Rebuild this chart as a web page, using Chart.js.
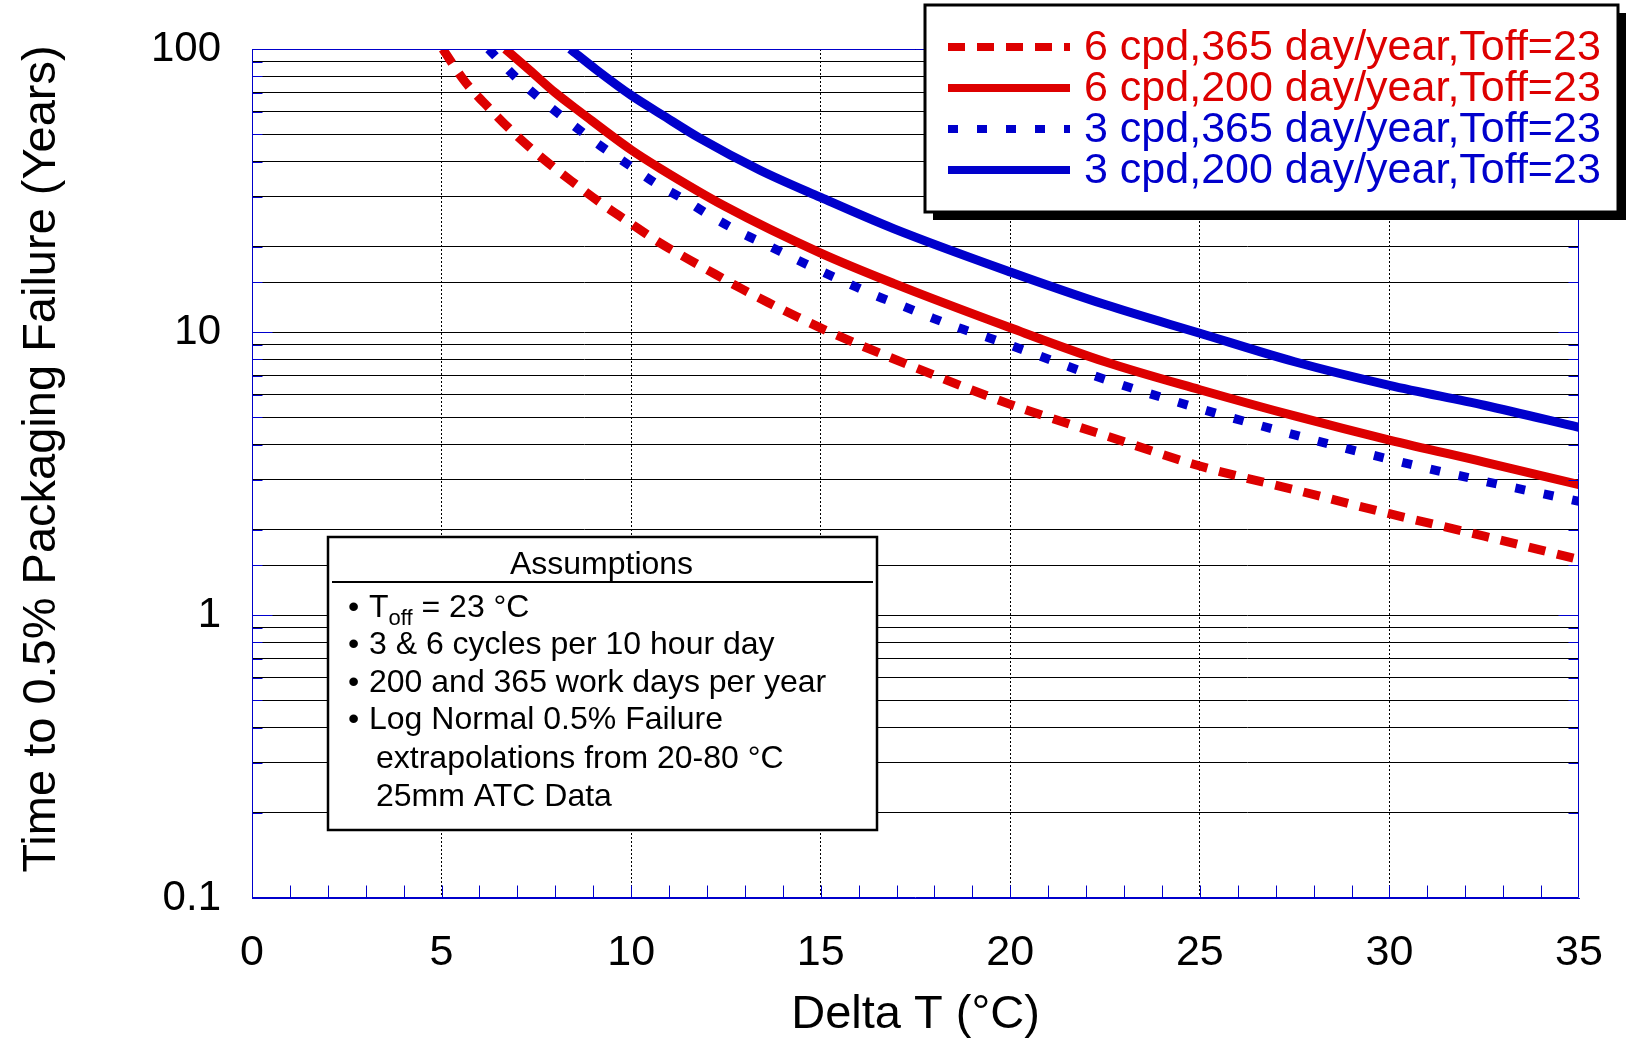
<!DOCTYPE html>
<html>
<head>
<meta charset="utf-8">
<title>Time to 0.5% Packaging Failure</title>
<script src="https://cdn.jsdelivr.net/npm/chart.js@4.4.0/dist/chart.umd.min.js"></script>
<style>
html, body { margin: 0; padding: 0; background: #fff; }
canvas { display: block; }
</style>
</head>
<body>
<canvas id="life" width="1637" height="1045"></canvas>
<script>
// Delta T (°C) and years to 0.5% failure for each duty cycle
const dt_6cpd_365 = [5.03, 5.62, 6.28, 7.01, 7.75, 8.48, 9.21, 9.95, 10.77, 11.47, 12.22, 12.92, 13.62, 14.39, 15.12, 17.5, 20, 22.5, 25, 27.5, 30, 32.5, 35];
const yrs_6cpd_365 = [100, 76.6, 61.3, 49.0, 40.2, 33.7, 28.5, 24.4, 20.6, 18.2, 16.0, 14.2, 12.7, 11.3, 10.16, 7.48, 5.55, 4.31, 3.36, 2.77, 2.28, 1.90, 1.57];

const dt_6cpd_200 = [6.68, 7.33, 8.0, 8.65, 10, 10.77, 12.5, 15, 16.92, 20, 22.5, 25, 27.5, 30, 32.5, 35];
const yrs_6cpd_200 = [100, 84, 70, 60.0, 44, 37.8, 27.7, 19.0, 14.85, 10.35, 7.85, 6.25, 5.05, 4.15, 3.47, 2.89];

const dt_3cpd_365 = [6.24, 7.01, 7.75, 8.48, 9.17, 9.95, 10.65, 11.38, 12.08, 12.85, 13.58, 14.3, 15.01, 15.75, 16.48, 17.2, 17.95, 18.68, 19.43, 22.5, 25, 27.5, 30, 32.5, 35];
const yrs_3cpd_365 = [100, 78.2, 64.2, 53.7, 45.7, 38.8, 33.5, 29.5, 25.8, 22.6, 20.3, 18.2, 16.4, 14.8, 13.4, 12.3, 11.2, 10.3, 9.55, 6.8, 5.36, 4.33, 3.55, 2.97, 2.52];

const dt_3cpd_200 = [8.39, 9.09, 10, 10.8, 11.82, 13.4, 15, 16.92, 20, 22.5, 25, 27.5, 30, 32.5, 35];
const yrs_3cpd_200 = [100, 84.3, 68.6, 58.7, 48.3, 37.3, 29.9, 23.2, 16.3, 12.5, 9.9, 7.85, 6.48, 5.51, 4.60];

const seriesLabels = [
    '6 cpd,365 day/year,Toff=23',
    '6 cpd,200 day/year,Toff=23',
    '3 cpd,365 day/year,Toff=23',
    '3 cpd,200 day/year,Toff=23'
];
const yLabelValues = [0.1, 1, 10, 100];
const yTitle = 'Time to 0.5% Packaging Failure (Years)';
const assumptionLines = [
    '3 & 6 cycles per 10 hour day',
    '200 and 365 work days per year',
    'Log Normal 0.5% Failure',
    'extrapolations from 20-80 °C',
    '25mm ATC Data'
];

const RED = '#dd0000';
const BLUE = '#0000cc';
const FONT = "'Liberation Sans', Arial, Helvetica, sans-serif";

function pts(xs, ys) {
    return xs.map((x, i) => ({ x: x, y: ys[i] }));
}

function isDecade(v) {
    const l = Math.log10(v);
    return Math.abs(l - Math.round(l)) < 1e-9;
}

function curve(label, data, color, dash) {
    return {
        label: label,
        data: data,
        borderColor: color,
        backgroundColor: color,
        borderWidth: 9,
        borderDash: dash,
        borderCapStyle: 'butt',
        pointRadius: 0,
        fill: false,
        cubicInterpolationMode: 'monotone'
    };
}

// frame, inner ticks, y title, legend box and the assumptions note
const decor = {
    id: 'decor',
    afterDraw(chart) {
        const ctx = chart.ctx;
        const xs = chart.scales.x, ys = chart.scales.y;
        const L = Math.round(xs.left) + 0.5, R = Math.round(xs.right) - 0.5;
        const T = Math.round(ys.top) + 0.5, B = Math.round(ys.bottom) - 0.5;

        ctx.save();
        ctx.strokeStyle = BLUE;
        ctx.lineWidth = 1;
        ctx.beginPath();
        // ticks on the left and right edges
        ys.ticks.forEach(t => {
            const py = Math.round(ys.getPixelForValue(t.value)) + 0.5;
            const len = isDecade(t.value) ? 20 : 10;
            ctx.moveTo(L, py); ctx.lineTo(L + len, py);
            ctx.moveTo(R, py); ctx.lineTo(R - len, py);
        });
        // minor ticks along the bottom
        for (let v = 1; v < 35; v++) {
            const px = Math.round(xs.getPixelForValue(v)) + 0.5;
            ctx.moveTo(px, B); ctx.lineTo(px, B - 12);
        }
        ctx.rect(L, T, R - L, B - T);
        ctx.stroke();

        // y axis title, sits a bit above the plot middle
        ctx.save();
        ctx.translate(42, 459);
        ctx.rotate(-Math.PI / 2);
        ctx.fillStyle = '#000';
        ctx.font = '47px ' + FONT;
        ctx.textAlign = 'center';
        ctx.textBaseline = 'middle';
        ctx.fillText(yTitle, 0, 0);
        ctx.restore();

        // legend with drop shadow
        const lx = 925, ly = 5, lw = 693, lh = 207;
        ctx.fillStyle = '#000';
        ctx.fillRect(lx + 8, ly + 8, lw, lh);
        ctx.fillStyle = '#fff';
        ctx.fillRect(lx, ly, lw, lh);
        ctx.strokeStyle = '#000';
        ctx.lineWidth = 3;
        ctx.strokeRect(lx, ly, lw, lh);

        ctx.font = '43px ' + FONT;
        ctx.textBaseline = 'middle';
        ctx.textAlign = 'left';
        chart.data.datasets.forEach((ds, i) => {
            const ry = 47 + i * 41;
            ctx.save();
            ctx.strokeStyle = ds.borderColor;
            ctx.lineWidth = 8;
            ctx.lineCap = 'butt';
            ctx.setLineDash(ds.borderDash || []);
            ctx.beginPath();
            ctx.moveTo(948, ry);
            ctx.lineTo(1070, ry);
            ctx.stroke();
            ctx.restore();
            ctx.fillStyle = ds.borderColor;
            ctx.fillText(ds.label, 1084, ry + 1);
        });

        // assumptions note
        const ax = 328, ay = 537, aw = 549, ah = 293;
        ctx.fillStyle = '#fff';
        ctx.fillRect(ax, ay, aw, ah);
        ctx.strokeStyle = '#000';
        ctx.lineWidth = 2.5;
        ctx.strokeRect(ax, ay, aw, ah);
        ctx.lineWidth = 2;
        ctx.beginPath();
        ctx.moveTo(ax + 4, 582);
        ctx.lineTo(ax + aw - 4, 582);
        ctx.stroke();

        ctx.fillStyle = '#000';
        ctx.font = '32px ' + FONT;
        ctx.textAlign = 'center';
        ctx.fillText('Assumptions', ax + aw / 2 - 1, 565);

        ctx.textAlign = 'left';
        ctx.textBaseline = 'alphabetic';
        const rows = [617, 654, 692, 729, 768, 806];
        const bullet = (y) => ctx.fillText('\u2022', 348, y);

        // T_off = 23 °C
        bullet(rows[0]);
        ctx.fillText('T', 369, rows[0]);
        let cx = 369 + ctx.measureText('T').width;
        ctx.font = '22px ' + FONT;
        ctx.fillText('off', cx, rows[0] + 8);
        cx += ctx.measureText('off').width;
        ctx.font = '32px ' + FONT;
        ctx.fillText(' = 23 °C', cx, rows[0]);

        assumptionLines.forEach((txt, i) => {
            const y = rows[i + 1];
            if (i < 3) {
                bullet(y);
                ctx.fillText(txt, 369, y);
            } else {
                ctx.fillText(txt, 376, y);
            }
        });
        ctx.restore();
    }
};

new Chart(document.getElementById('life'), {
    type: 'line',
    data: {
        datasets: [
            curve(seriesLabels[0], pts(dt_6cpd_365, yrs_6cpd_365), RED, [17, 12]),
            curve(seriesLabels[1], pts(dt_6cpd_200, yrs_6cpd_200), RED, []),
            curve(seriesLabels[2], pts(dt_3cpd_365, yrs_3cpd_365), BLUE, [10, 19]),
            curve(seriesLabels[3], pts(dt_3cpd_200, yrs_3cpd_200), BLUE, [])
        ]
    },
    options: {
        responsive: false,
        animation: false,
        devicePixelRatio: 1,
        layout: { padding: { top: 49, right: 58, left: 0, bottom: 0 } },
        plugins: {
            legend: { display: false },
            tooltip: { enabled: false }
        },
        scales: {
            x: {
                type: 'linear',
                min: 0,
                max: 35,
                ticks: {
                    stepSize: 5,
                    color: '#000',
                    padding: 29,
                    maxRotation: 0,
                    autoSkip: false,
                    font: { family: FONT, size: 43 }
                },
                grid: {
                    color: c => (c.tick && c.tick.value > 0 && c.tick.value < 35) ? '#000' : 'rgba(0,0,0,0)',
                    lineWidth: 1,
                    drawTicks: false
                },
                border: { color: BLUE, width: 1, dash: [2, 2] },
                title: {
                    display: true,
                    text: 'Delta T (°C)',
                    color: '#000',
                    font: { family: FONT, size: 47 },
                    padding: { top: 0, bottom: 2 }
                },
                afterFit: s => { s.height = 147; }
            },
            y: {
                type: 'logarithmic',
                min: 0.1,
                max: 100,
                ticks: {
                    color: '#000',
                    padding: 31,
                    autoSkip: false,
                    font: { family: FONT, size: 42 },
                    callback: v => (yLabelValues.some(d => Math.abs(d - v) < 1e-9) ? String(v) : '')
                },
                grid: { color: '#000', lineWidth: 1, drawTicks: false },
                border: { color: BLUE, width: 1 },
                afterFit: s => {
                    s.width = 252;
                    // the tick padding would otherwise push the plot top down
                    s.paddingTop = 0;
                    s.paddingBottom = 0;
                }
            }
        }
    },
    plugins: [decor]
});
</script>
</body>
</html>
